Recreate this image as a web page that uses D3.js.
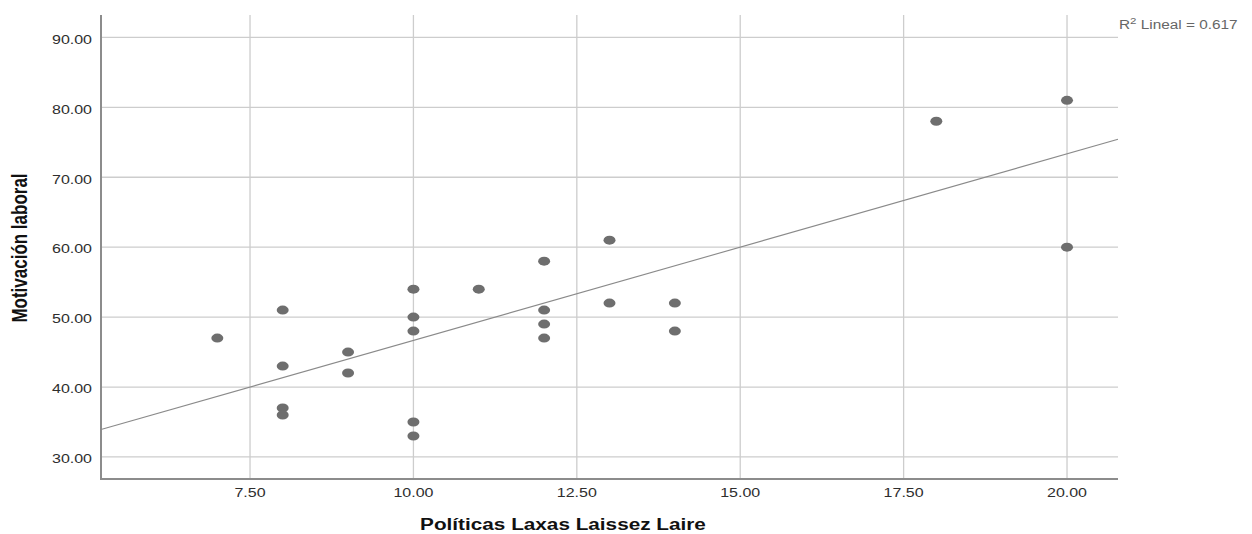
<!DOCTYPE html>
<html>
<head>
<meta charset="utf-8">
<script src="https://cdn.jsdelivr.net/npm/d3@7"></script>
<style>
  html, body { margin: 0; padding: 0; background: #ffffff; }
  svg { display: block; }
  text { font-family: "Liberation Sans", Arial, sans-serif; }
</style>
</head>
<body>
<svg id="chart" width="1252" height="534"></svg>
<script>
// ---- data ----
const xValues = [7, 8, 8, 8, 8, 9, 9, 10, 10, 10, 10, 10, 11, 12, 12, 12, 12, 13, 13, 14, 14, 18, 20, 20];
const yValues = [47, 51, 43, 37, 36, 45, 42, 54, 50, 48, 35, 33, 54, 58, 51, 49, 47, 61, 52, 52, 48, 78, 81, 60];
const xTicks = [7.5, 10, 12.5, 15, 17.5, 20];
const yTicks = [30, 40, 50, 60, 70, 80, 90];
const fitIntercept = 20.0;
const fitSlope = 2.667;
const xTitle = "Políticas Laxas Laissez Laire";
const yTitle = "Motivación laboral";
const r2Text = "0.617";

// ---- layout ----
const pLeft = 101, pRight = 1118, pTop = 15, pBottom = 479;
const stretch = 1.28; // horizontal text stretch seen in the reference

const svg = d3.select("#chart");
const x = d3.scaleLinear().domain([5.22, 20.78]).range([pLeft, pRight]);
const y = d3.scaleLinear().domain([26.85, 93.2]).range([pBottom, pTop]);
const fmt = d3.format(".2f");

// gridlines
svg.append("g").selectAll("line").data(yTicks).join("line")
  .attr("x1", pLeft).attr("x2", pRight)
  .attr("y1", d => y(d)).attr("y2", d => y(d))
  .attr("stroke", "#cdcdcd").attr("stroke-width", 1.3);
svg.append("g").selectAll("line").data(xTicks).join("line")
  .attr("x1", d => x(d)).attr("x2", d => x(d))
  .attr("y1", pTop).attr("y2", pBottom)
  .attr("stroke", "#cdcdcd").attr("stroke-width", 1.3);

// axes lines
svg.append("line").attr("x1", pLeft).attr("x2", pLeft).attr("y1", pTop).attr("y2", pBottom + 1)
  .attr("stroke", "#8c8c8c").attr("stroke-width", 2);
svg.append("line").attr("x1", pLeft - 1).attr("x2", pRight).attr("y1", pBottom).attr("y2", pBottom)
  .attr("stroke", "#8c8c8c").attr("stroke-width", 2);

// tick labels
svg.append("g").selectAll("text").data(yTicks).join("text")
  .attr("transform", d => `translate(${pLeft - 9},${y(d) + 6.3}) scale(${stretch},1)`)
  .attr("text-anchor", "end")
  .attr("font-size", 12.5).attr("fill", "#2e2e2e")
  .text(d => fmt(d));
svg.append("g").selectAll("text").data(xTicks).join("text")
  .attr("transform", d => `translate(${x(d)},${pBottom + 18}) scale(${stretch},1)`)
  .attr("text-anchor", "middle")
  .attr("font-size", 12.5).attr("fill", "#2e2e2e")
  .text(d => fmt(d));

// regression line
const xd = x.domain();
svg.append("line")
  .attr("x1", x(xd[0])).attr("y1", y(fitIntercept + fitSlope * xd[0]))
  .attr("x2", x(xd[1])).attr("y2", y(fitIntercept + fitSlope * xd[1]))
  .attr("stroke", "#8a8a8a").attr("stroke-width", 1.1);

// points
svg.append("g").selectAll("ellipse").data(xValues.map((v, i) => [v, yValues[i]])).join("ellipse")
  .attr("cx", d => x(d[0])).attr("cy", d => y(d[1]))
  .attr("rx", 6).attr("ry", 4.5)
  .attr("fill", "#6e6e6e");

// axis titles
svg.append("text")
  .attr("transform", `translate(563,530) scale(1.22,1)`)
  .attr("text-anchor", "middle")
  .attr("font-size", 17).attr("font-weight", "bold").attr("fill", "#111")
  .text(xTitle);
svg.append("text")
  .attr("transform", `translate(27,248) scale(1.28,1) rotate(-90)`)
  .attr("text-anchor", "middle")
  .attr("font-size", 17).attr("font-weight", "bold").attr("fill", "#111")
  .text(yTitle);

// R² annotation
const r2 = svg.append("text")
  .attr("transform", `translate(1119,29) scale(${stretch},1)`)
  .attr("font-size", 12).attr("fill", "#666");
r2.append("tspan").text("R");
r2.append("tspan").attr("font-size", 9).attr("dy", -5).text("2");
r2.append("tspan").attr("dy", 5).text(" Lineal = " + r2Text);
</script>
</body>
</html>
